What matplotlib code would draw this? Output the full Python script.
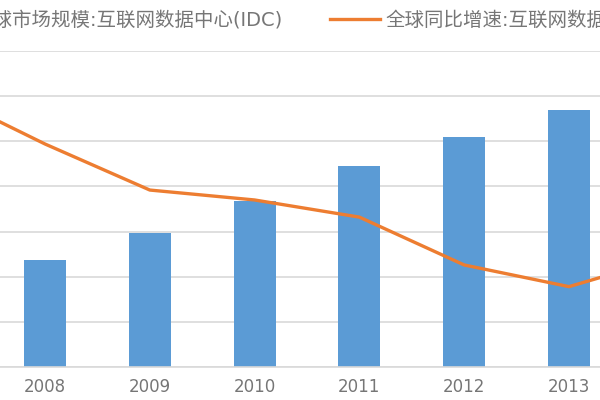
import matplotlib
matplotlib.use("Agg")
import matplotlib.pyplot as plt
import numpy as np

plt.rcParams['font.family'] = ['DejaVu Sans', 'Noto Sans CJK SC']

# Data (2007 and 2014 sit just outside the crop)
years = ['2007', '2008', '2009', '2010', '2011', '2012', '2013', '2014']
market_size = [180, 237, 297, 368, 446, 510, 570, 640]
growth_pct = [30.4, 24.7, 19.6, 18.5, 16.6, 11.3, 8.9, 12.3]

label_bar = '全球市场规模:互联网数据中心(IDC)'
label_line = '全球同比增速:互联网数据中心(IDC)'

bar_color = '#5B9BD5'
line_color = '#ED7D31'
grid_color = '#D9D9D9'
text_color = '#767676'
tick_size = 12
legend_size = 14

fig = plt.figure(figsize=(6, 4), dpi=100)
fig.patch.set_facecolor('white')

# plot area is wider than the picture (the reference is a crop)
x = np.arange(len(years))
px_step = 104.8
left_px = 45 - 2.5 * px_step
ax = fig.add_axes([left_px / 600, (400 - 367) / 400, 9 * px_step / 600, 316 / 400])
ax.set_xlim(-1.5, 7.5)

bars = ax.bar(x, market_size, width=0.40, color=bar_color, zorder=2)
ax.set_ylim(0, 700)
ax.set_yticks(np.arange(0, 701, 100))
ax.yaxis.grid(True, color=grid_color, lw=1.2, zorder=0)
ax.set_axisbelow(True)
ax.set_xticks(x)
ax.set_xticklabels(years)
ax.tick_params(axis='x', length=0, pad=8, labelsize=tick_size, labelcolor=text_color)
ax.tick_params(axis='y', left=False, labelleft=False)
for s in ['top', 'left', 'right']:
    ax.spines[s].set_visible(False)
ax.spines['bottom'].set_color(grid_color)
ax.spines['bottom'].set_linewidth(1.2)

ax2 = ax.twinx()
ax2.set_ylim(0, 35)
line, = ax2.plot(x, growth_pct, color=line_color, lw=2.4, solid_joinstyle='round')
ax2.tick_params(axis='y', right=False, labelright=False)
for s in ax2.spines.values():
    s.set_visible(False)

# legend: two entries, placed separately so the crop matches
em = legend_size * 100 / 72
leg_kw = dict(frameon=False, fontsize=legend_size, labelcolor=text_color,
              handlelength=50 / em, handletextpad=5 / em, borderpad=0, borderaxespad=0)
fig.legend([bars], [label_bar], loc='center right',
           bbox_to_anchor=(283 / 600, 1 - 20 / 400), **leg_kw)
fig.legend([line], [label_line], loc='center left',
           bbox_to_anchor=(330 / 600, 1 - 20 / 400), **leg_kw)

plt.savefig('out.png', dpi=100)
